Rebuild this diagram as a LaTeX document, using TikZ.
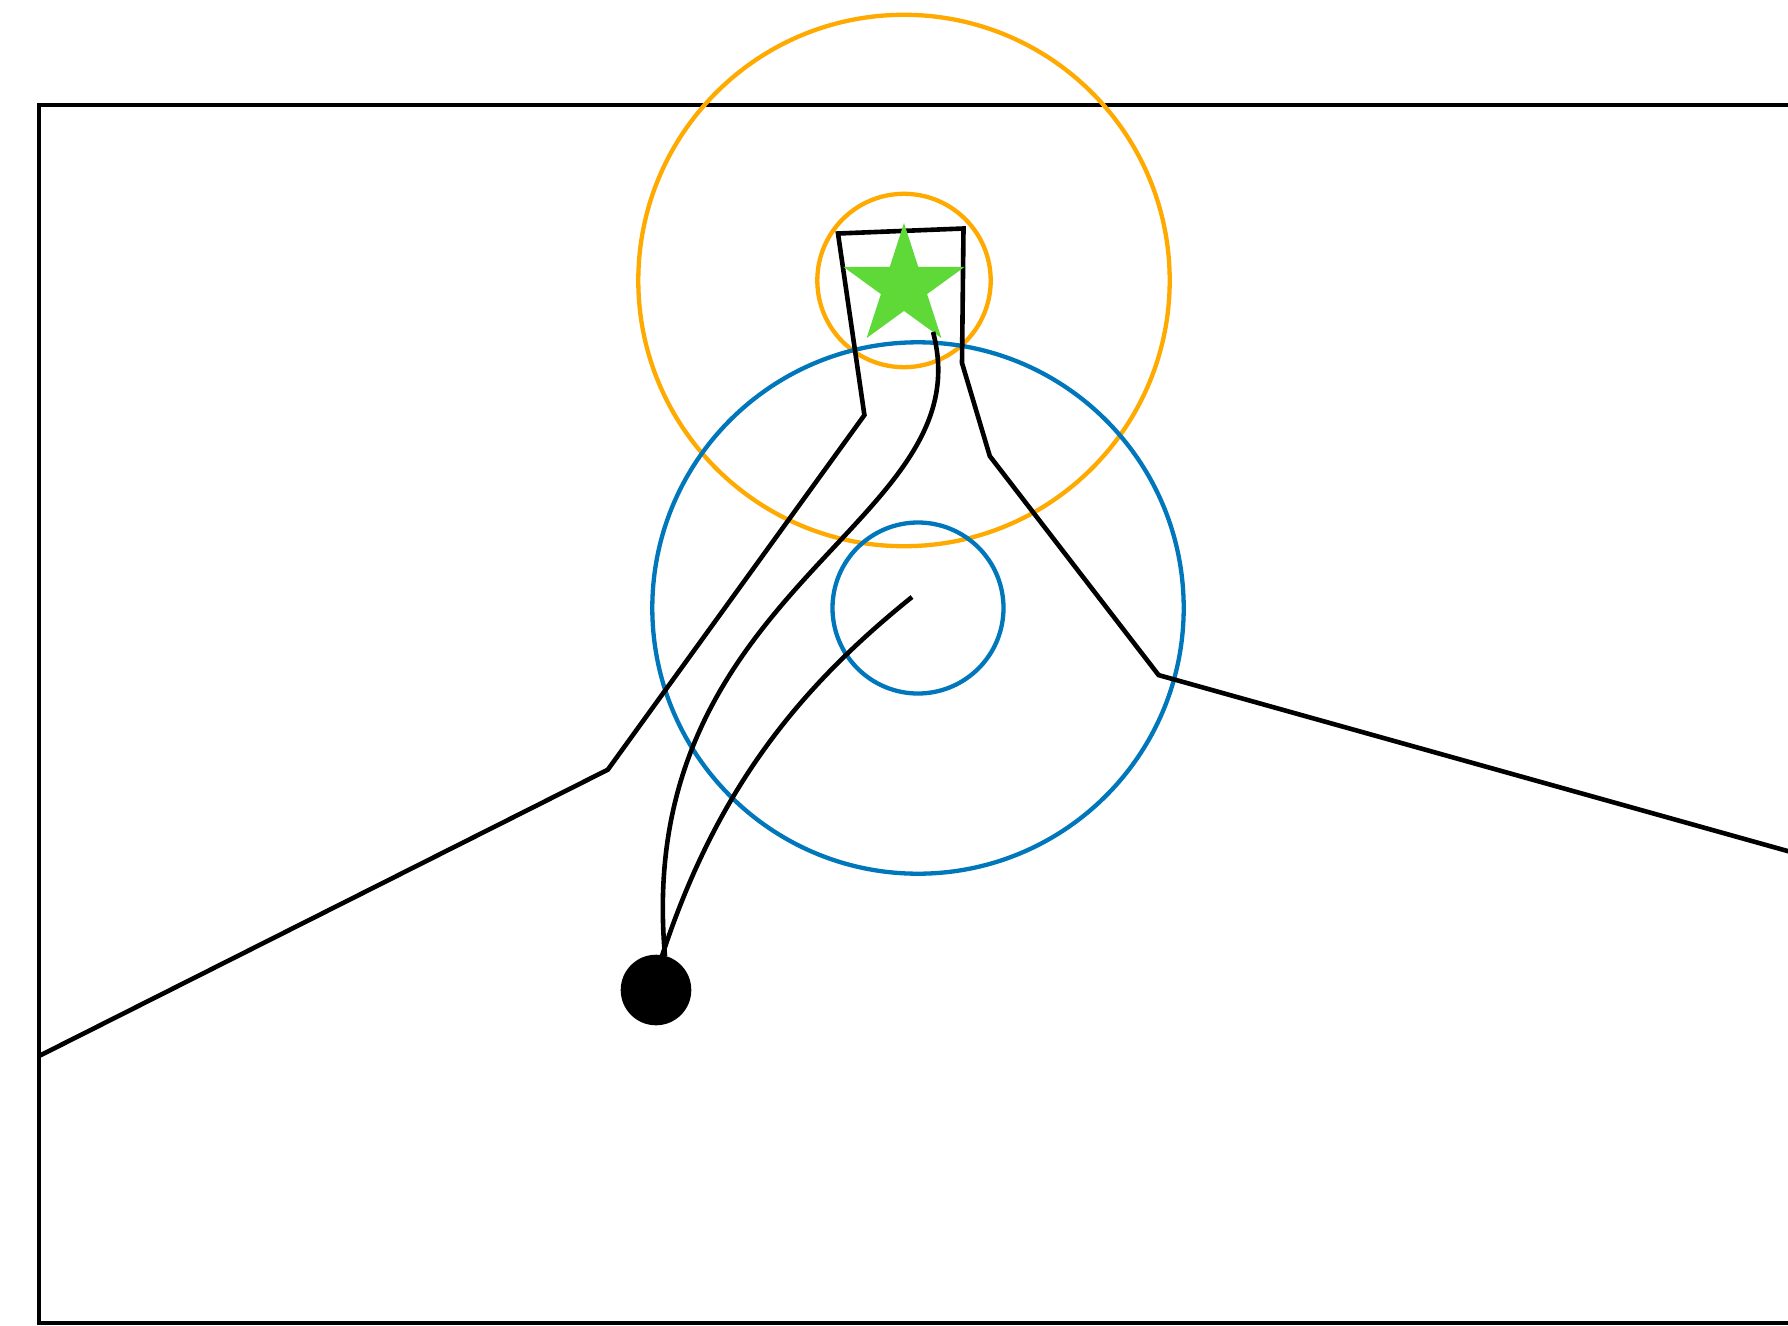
\documentclass[tikz,border=0pt]{standalone}
\usetikzlibrary{calc}
\definecolor{ringorange}{RGB}{255,170,0}
\definecolor{ringblue}{RGB}{0,119,187}
\definecolor{stargreen}{RGB}{95,217,55}
\begin{document}
\begin{tikzpicture}[x=1pt,y=-1pt,
  ring/.style={line width=4.3pt},
  wall/.style={line width=4.6pt, line join=miter},
  trail/.style={line width=4.6pt}]
\clip (0,0) rectangle (1788,1325);
\fill[white] (0,0) rectangle (1788,1325);
% frame
\draw[line width=4.6pt] (1800,104.9) -- (38.8,104.9) -- (38.8,1322.8) -- (1800,1322.8);
% rings
\draw[ring,ringorange] (904,280.5) circle (265.7);
\draw[ring,ringorange] (904,280.5) circle (86.7);
\draw[ring,ringblue] (918,608) circle (265.7);
\draw[ring,ringblue] (918,608) circle (85.5);
% boundary polyline
\draw[wall] (40,1055.5) -- (607.8,769.7) -- (864.4,415.1) -- (838,233.5) -- (963.5,228.5)
  -- (962,363) -- (989.8,456.1) -- (1158.6,675.1) -- (1800,854.5);
% star
\coordinate (sc) at (904,286.6);
\fill[stargreen] ($(sc)+(-90:63.6)$)
  \foreach \k in {0,...,4} { -- ($(sc)+(-54+72*\k:24.3)$) -- ($(sc)+(-18+72*\k:63.6)$) } -- cycle;
% dot
\coordinate (dot) at (656,990);
\fill[black] (dot) circle (35.3);
\coordinate (s1) at (665,956);
\coordinate (s2) at (662,956);
\coordinate (t1) at (933,332);
\coordinate (t2) at (912,597);
% trails
\draw[trail] (s1) .. controls (632,585) and (985,525) .. (t1);
\draw[trail] (s2) .. controls (717,788) and (800,687) .. (t2);
\end{tikzpicture}
\end{document}
